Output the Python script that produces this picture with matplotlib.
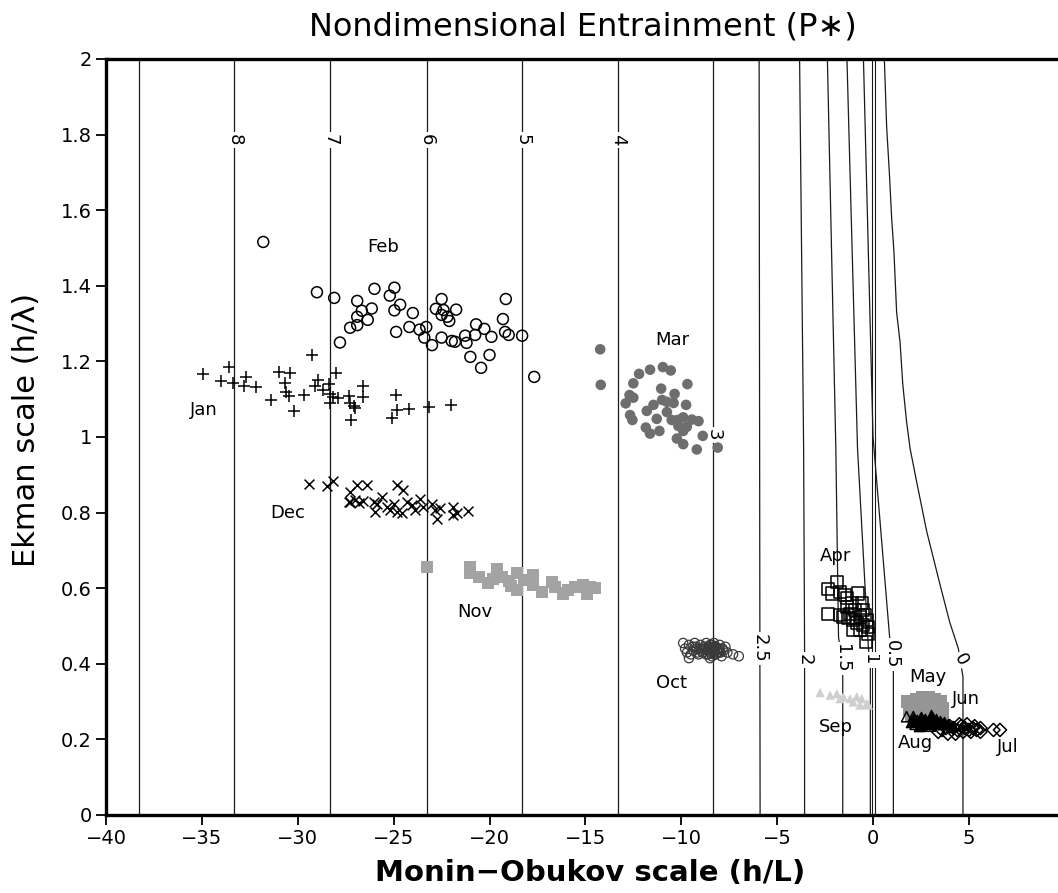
import matplotlib
matplotlib.use("Agg")
import matplotlib.pyplot as plt

# ---------------- data ----------------
jan_x = [-34.96, -33.6, -34.0, -33.4, -32.7, -32.8, -32.2, -31.4, -31.0, -30.4, -30.65, -30.6, -30.45, -30.2,
         -29.65, -29.25, -28.97, -29.1, -28.7, -28.35, -28.0, -28.3, -28.15, -28.3, -27.9, -27.35, -27.27,
         -27.0, -27.2, -26.6, -26.6, -24.9, -24.85, -24.2, -25.1, -23.15, -22.0, -27.05]
jan_y = [1.166, 1.184, 1.148, 1.144, 1.16, 1.136, 1.131, 1.097, 1.172, 1.170, 1.144, 1.12, 1.108, 1.07,
         1.111, 1.217, 1.152, 1.135, 1.124, 1.14, 1.168, 1.115, 1.106, 1.089, 1.102, 1.109, 1.091,
         1.078, 1.046, 1.136, 1.106, 1.111, 1.071, 1.073, 1.049, 1.08, 1.085, 1.082]

feb_x = [-31.8, -29.0, -28.1, -27.8, -27.27, -26.9, -26.9, -26.66, -26.9, -26.35, -26.14, -26.0, -25.2,
         -24.96, -24.96, -24.87, -24.66, -24.0, -24.18, -23.65, -23.3, -23.4, -23.0, -22.5, -22.8, -22.4,
         -22.5, -22.2, -22.1, -21.74, -22.5, -21.97, -21.8, -21.27, -21.2, -21.0, -20.75, -20.7, -20.44,
         -20.27, -19.9, -20.0, -19.3, -19.15, -19.19, -19.0, -18.3, -17.67]
feb_y = [1.516, 1.383, 1.368, 1.250, 1.289, 1.296, 1.318, 1.334, 1.360, 1.310, 1.340, 1.392, 1.374,
         1.395, 1.335, 1.278, 1.350, 1.328, 1.291, 1.284, 1.291, 1.263, 1.243, 1.365, 1.339, 1.336,
         1.323, 1.318, 1.307, 1.337, 1.263, 1.254, 1.252, 1.268, 1.249, 1.212, 1.27, 1.298, 1.183,
         1.286, 1.265, 1.217, 1.312, 1.365, 1.278, 1.27, 1.268, 1.159]

mar_x = [-14.23, -14.2, -12.2, -11.63, -10.96, -10.55, -12.5, -9.68, -11.05, -12.7, -12.5, -10.35, -12.9,
         -11.8, -11.45, -11.0, -10.75, -10.4, -9.75, -11.28, -10.75, -12.67, -12.55, -10.5, -10.2, -9.9,
         -9.45, -9.1, -11.85, -11.63, -11.14, -10.15, -9.71, -9.9, -10.23, -9.9, -8.88, -9.19, -8.1]
mar_y = [1.232, 1.138, 1.167, 1.178, 1.185, 1.176, 1.142, 1.140, 1.128, 1.111, 1.104, 1.114, 1.089,
         1.069, 1.085, 1.098, 1.093, 1.090, 1.085, 1.048, 1.066, 1.058, 1.045, 1.045, 1.045, 1.052,
         1.046, 1.042, 1.025, 1.009, 1.016, 1.029, 1.027, 1.016, 0.996, 0.981, 1.003, 0.967, 0.972]

dec_x = [-29.4, -28.5, -28.17, -27.27, -26.9, -26.4, -27.27, -27.0, -26.83, -26.05, -25.87, -25.6, -25.96,
         -25.36, -25.18, -24.83, -24.5, -25.0, -24.83, -24.57, -24.3, -24.05, -23.88, -23.6, -23.45,
         -23.0, -22.84, -22.75, -22.58, -21.88, -21.88, -21.7, -21.1, -27.35, -26.6]
dec_y = [0.876, 0.870, 0.884, 0.855, 0.873, 0.873, 0.828, 0.833, 0.826, 0.828, 0.824, 0.842, 0.802,
         0.815, 0.807, 0.874, 0.860, 0.824, 0.802, 0.798, 0.828, 0.820, 0.807, 0.837, 0.815,
         0.824, 0.807, 0.784, 0.811, 0.815, 0.794, 0.798, 0.805, 0.828, 0.830]

nov_x = [-23.24, -21.0, -21.0, -20.57, -20.1, -19.6, -19.36, -19.0, -18.58, -18.58, -18.2, -17.74, -17.74,
         -17.27, -16.75, -16.58, -16.15, -15.9, -15.54, -15.1, -14.93, -14.75, -14.5, -19.8, -18.9]
nov_y = [0.655, 0.657, 0.639, 0.630, 0.614, 0.650, 0.630, 0.619, 0.639, 0.595, 0.622, 0.635, 0.608,
         0.591, 0.617, 0.604, 0.586, 0.595, 0.604, 0.608, 0.586, 0.604, 0.600, 0.625, 0.605]

oct_x = [-9.9, -9.6, -9.4, -9.7, -9.5, -9.2, -9.0, -8.8, -8.6, -8.4, -8.2, -8.0, -7.8, -9.1, -8.9, -8.7,
         -8.5, -8.3, -8.1, -7.9, -7.6, -7.3, -7.0, -9.8, -9.3, -8.7, -8.3, -8.0, -7.7, -8.5, -9.6,
         -8.75, -8.65, -8.55, -8.45, -8.35, -8.25, -8.15, -8.05, -8.6, -8.4, -8.2, -8.3, -8.5, -8.1,
         -9.35, -9.25, -9.15, -9.05, -8.95, -8.85, -7.95, -7.85]
oct_y = [0.455, 0.45, 0.445, 0.43, 0.425, 0.44, 0.45, 0.445, 0.44, 0.45, 0.445, 0.44, 0.435, 0.425, 0.43,
         0.425, 0.43, 0.425, 0.43, 0.42, 0.43, 0.425, 0.42, 0.44, 0.455, 0.455, 0.455, 0.45, 0.445, 0.415, 0.415,
         0.44, 0.435, 0.445, 0.44, 0.435, 0.44, 0.435, 0.43, 0.425, 0.42, 0.425, 0.445, 0.45, 0.44,
         0.435, 0.445, 0.43, 0.44, 0.435, 0.44, 0.43, 0.44]

apr_x = [-1.89, -2.33, -2.15, -1.72, -1.46, -0.77, -2.33, -1.72, -1.37, -1.2, -1.03, -0.59, -0.5, -0.85,
         -1.03, -0.68, -0.33, -0.24, -0.36, -0.24, -1.37, -1.11, -1.54, -1.28, -0.68, -0.42, -0.94, -0.5]
apr_y = [0.617, 0.599, 0.586, 0.590, 0.582, 0.586, 0.533, 0.529, 0.551, 0.533, 0.516, 0.560, 0.542, 0.507,
         0.489, 0.489, 0.516, 0.498, 0.458, 0.480, 0.573, 0.560, 0.525, 0.520, 0.525, 0.529, 0.542, 0.503]

sep_x = [-2.76, -2.24, -1.89, -1.72, -1.55, -1.2, -1.03, -0.85, -0.68, -0.59, -0.33, -0.24]
sep_y = [0.324, 0.317, 0.321, 0.308, 0.313, 0.308, 0.299, 0.313, 0.291, 0.308, 0.295, 0.291]

may_x = [1.8, 2.0, 2.3, 2.6, 2.9, 3.2, 3.5, 1.9, 2.2, 2.5, 2.8, 3.1, 3.4, 3.6, 2.0, 2.4, 2.8, 3.3, 3.6]
may_y = [0.30, 0.30, 0.305, 0.31, 0.31, 0.305, 0.30, 0.28, 0.285, 0.29, 0.295, 0.29, 0.285, 0.28,
         0.265, 0.27, 0.27, 0.27, 0.265]

aug_x = [1.75, 2.1, 2.3, 2.5, 2.7, 2.9, 3.1, 3.3, 2.2, 2.6, 3.0]
aug_y = [0.26, 0.26, 0.25, 0.255, 0.25, 0.245, 0.25, 0.245, 0.24, 0.24, 0.235]

jun_x = [2.0, 2.3, 2.5, 2.7, 2.9, 3.1, 3.3, 3.5, 3.7, 2.4, 2.8, 3.2, 3.6, 3.9, 4.1, 2.1, 3.0, 2.6]
jun_y = [0.245, 0.25, 0.26, 0.255, 0.25, 0.26, 0.255, 0.25, 0.245, 0.235, 0.24, 0.24, 0.24, 0.24,
         0.235, 0.255, 0.265, 0.245]

jul_x = [3.6, 3.8, 4.0, 4.2, 4.4, 4.6, 4.8, 5.0, 5.2, 5.4, 5.6, 4.3, 4.7, 5.1, 3.9, 4.5, 4.9, 5.3,
         6.28, 6.62, 3.4, 5.6]
jul_y = [0.225, 0.23, 0.235, 0.23, 0.225, 0.235, 0.23, 0.225, 0.23, 0.225, 0.23, 0.215, 0.22, 0.22,
         0.215, 0.24, 0.24, 0.235, 0.225, 0.225, 0.22, 0.22]

# contour lines of P*
c_levels = ["9", "8", "7", "6", "5", "4", "3", "2.5", "2", "1.5", "1", "0.5", "0"]
c_x = [[-38.3, -38.3], [-33.3, -33.3], [-28.3, -28.3], [-23.25, -23.25], [-18.3, -18.3],
       [-13.3, -13.3], [-8.33, -8.33], [-5.94, -5.89], [-3.83, -3.62, -3.57, -3.57],
       [-2.38, -1.94, -1.8, -1.58, -1.58], [-1.36, -0.81, -0.24, -0.14, -0.14],
       [-0.5, 0.0, 0.89, 1.06, 1.06],
       [0.59, 0.71, 0.85, 0.97, 1.09, 1.23, 1.41, 1.55, 1.75, 1.93, 2.28, 2.80, 3.49, 4.0, 4.45, 4.69, 4.69]]
c_y = [[0, 2], [0, 2], [0, 2], [0, 2], [0, 2], [0, 2], [0, 2], [2, 0], [2, 0.97, 0.44, 0],
       [2, 0.97, 0.47, 0.40, 0], [2, 0.97, 0.44, 0.40, 0], [2, 1.0, 0.455, 0.38, 0],
       [2.0, 1.82, 1.70, 1.58, 1.49, 1.33, 1.25, 1.14, 1.04, 0.97, 0.88, 0.75, 0.61, 0.51, 0.44, 0.365, 0]]
lab_x = [None, -33.3, -28.3, -23.25, -18.3, -13.3, -8.33, -5.91, -3.57, -1.62, -0.15, 0.97, 4.57]
lab_y = [None, 1.786, 1.786, 1.786, 1.786, 1.786, 1.005, 0.44, 0.41, 0.415, 0.41, 0.425, 0.41]
lab_rot = [0, -90, -90, -90, -90, -90, -90, -90, -90, -90, -90, -90, -62]
zero_lines_x = [-0.03, 0.08]

month_names = ["Jan", "Feb", "Mar", "Dec", "Nov", "Oct", "Apr", "Sep", "May", "Jun", "Aug", "Jul"]
month_lx = [-34.9, -25.55, -10.48, -30.5, -20.75, -10.53, -1.93, -1.93, 2.87, 4.85, 2.19, 7.04]
month_ly = [1.071, 1.503, 1.257, 0.799, 0.537, 0.349, 0.685, 0.233, 0.365, 0.307, 0.19, 0.18]

xticks = [-40, -35, -30, -25, -20, -15, -10, -5, 0, 5]
yticks = [0, 0.2, 0.4, 0.6, 0.8, 1, 1.2, 1.4, 1.6, 1.8, 2]
ytick_labels = ["0", "0.2", "0.4", "0.6", "0.8", "1", "1.2", "1.4", "1.6", "1.8", "2"]
xtick_labels = ["\u221240", "\u221235", "\u221230", "\u221225", "\u221220", "\u221215", "\u221210", "\u22125", "0", "5"]

# ---------------- figure ----------------
W, H = 1058, 893
fig = plt.figure(figsize=(W / 100, H / 100), dpi=100)
ax = fig.add_axes([106 / W, 1 - 815 / H, (W - 106) / W, (815 - 59) / H])
ax.set_xlim(-40, (1058 - 873) / 19.18)
ax.set_ylim(0, 2)

lc = "#1a1a1a"
for xs, ys in zip(c_x, c_y):
    ax.plot(xs, ys, color=lc, lw=0.9, zorder=1, solid_capstyle="butt")
for zx in zero_lines_x:
    ax.plot([zx, zx], [0, 2], color=lc, lw=0.8, zorder=1)

for lab, lx, ly, rot in zip(c_levels, lab_x, lab_y, lab_rot):
    if lx is None:
        continue
    ax.text(lx, ly, lab, rotation=rot, ha="center", va="center", fontsize=13,
            color="black", zorder=2, rotation_mode="anchor",
            bbox=dict(facecolor="white", edgecolor="none", pad=1.5))

mk = dict(zorder=3, linewidths=1.1)
ax.scatter(jan_x, jan_y, marker="+", s=80, c="black", **mk)
ax.scatter(feb_x, feb_y, marker="o", s=62, facecolors="none", edgecolors="black", **mk)
ax.scatter(mar_x, mar_y, marker="o", s=58, c="#6e6e6e", edgecolors="none", zorder=3)
ax.scatter(dec_x, dec_y, marker="x", s=50, c="black", **mk)
ax.scatter(nov_x, nov_y, marker="s", s=75, c="#a3a3a3", edgecolors="none", zorder=3)
ax.scatter(oct_x, oct_y, marker="o", s=45, facecolors="none", edgecolors="#3a3a3a", zorder=3, linewidths=0.9)
ax.scatter(apr_x, apr_y, marker="s", s=75, facecolors="none", edgecolors="black", **mk)
ax.scatter(sep_x, sep_y, marker="^", s=45, c="#cfcfcf", edgecolors="none", zorder=3)
ax.scatter(may_x, may_y, marker="s", s=95, c="#959595", edgecolors="none", zorder=3)
ax.scatter(aug_x, aug_y, marker="^", s=55, facecolors="none", edgecolors="black", **mk)
ax.scatter(jun_x, jun_y, marker="^", s=55, c="black", edgecolors="black", zorder=3)
ax.scatter(jul_x, jul_y, marker="D", s=45, facecolors="none", edgecolors="black", **mk)

for name, lx, ly in zip(month_names, month_lx, month_ly):
    ax.text(lx, ly, name, ha="center", va="center", fontsize=13, zorder=4)

ax.set_xticks(xticks)
ax.set_xticklabels(xtick_labels)
ax.set_yticks(yticks)
ax.set_yticklabels(ytick_labels)
ax.tick_params(axis="both", direction="out", length=7, width=1.3, labelsize=14, pad=3)
for side in ["left", "bottom", "top"]:
    ax.spines[side].set_linewidth(2.4)
ax.spines["right"].set_visible(False)

fig.text(583 / W, 1 - 27 / H, "Nondimensional Entrainment (P\u2217)", ha="center", va="center", fontsize=23)
fig.text(590 / W, 1 - 873 / H, "Monin\u2212Obukov scale (h/L)", ha="center", va="center", fontsize=21,
         fontweight="bold")
fig.text(27 / W, 1 - 430 / H, "Ekman scale (h/\u03bb)", ha="center", va="center", fontsize=22, rotation=90)

fig.savefig("out.png", dpi=100)
